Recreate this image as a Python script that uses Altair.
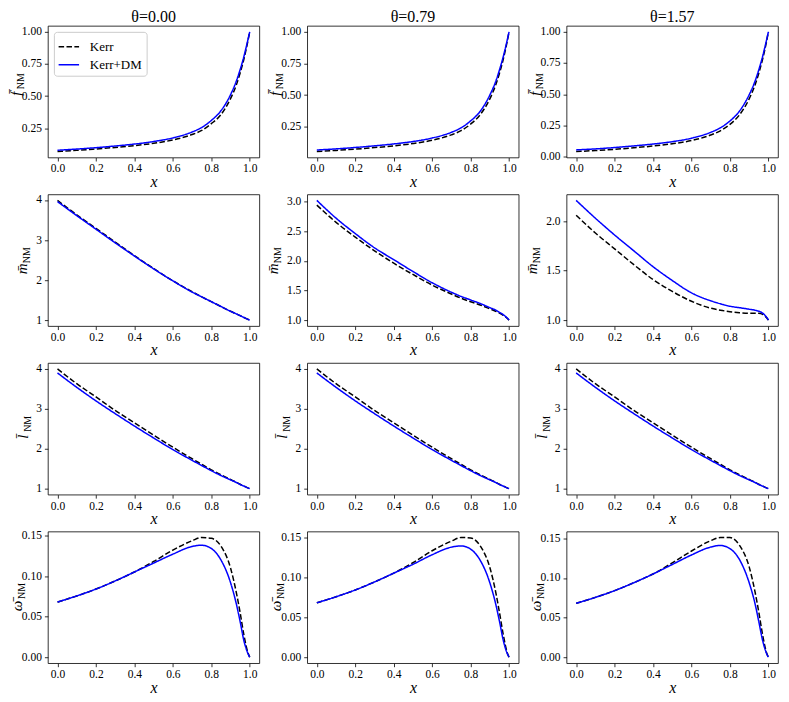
import altair as alt
import pandas as pd

FONT = "Liberation Serif"

# ---------------- data ----------------
x_vals = [0.0, 0.1, 0.2, 0.3, 0.4, 0.5, 0.6, 0.7, 0.75, 0.8, 0.85, 0.9, 0.93, 0.95, 0.97, 0.99, 1.0]
thetas = ["0.00", "0.79", "1.57"]
series = ["Kerr", "Kerr+DM"]

f_kerr_0 = [0.068, 0.077, 0.088, 0.100, 0.114, 0.132, 0.158, 0.200, 0.232, 0.285, 0.355, 0.480, 0.585, 0.680, 0.790, 0.925, 1.0]
f_dm_0 = [0.078, 0.087, 0.098, 0.111, 0.126, 0.146, 0.174, 0.220, 0.255, 0.310, 0.385, 0.510, 0.615, 0.705, 0.810, 0.935, 1.0]
f_kerr_1 = [0.053, 0.062, 0.072, 0.084, 0.098, 0.116, 0.142, 0.185, 0.218, 0.270, 0.345, 0.470, 0.578, 0.672, 0.785, 0.922, 1.0]
f_dm_1 = [0.065, 0.074, 0.085, 0.098, 0.113, 0.132, 0.160, 0.205, 0.240, 0.295, 0.372, 0.500, 0.605, 0.698, 0.805, 0.932, 1.0]
f_kerr_2 = [0.040, 0.048, 0.058, 0.070, 0.084, 0.102, 0.128, 0.172, 0.206, 0.258, 0.335, 0.462, 0.572, 0.668, 0.782, 0.920, 1.0]
f_dm_2 = [0.053, 0.061, 0.072, 0.085, 0.100, 0.119, 0.147, 0.194, 0.230, 0.285, 0.365, 0.495, 0.602, 0.695, 0.803, 0.932, 1.0]

m_kerr_0 = [3.99, 3.63, 3.29, 2.95, 2.61, 2.29, 1.98, 1.71, 1.58, 1.46, 1.34, 1.22, 1.155, 1.11, 1.065, 1.02, 1.0]
m_dm_0 = [3.96, 3.61, 3.27, 2.93, 2.60, 2.28, 1.98, 1.70, 1.58, 1.46, 1.34, 1.22, 1.155, 1.11, 1.065, 1.02, 1.0]
m_kerr_1 = [2.94, 2.65, 2.40, 2.17, 1.96, 1.77, 1.59, 1.44, 1.37, 1.31, 1.255, 1.19, 1.15, 1.12, 1.08, 1.03, 1.0]
m_dm_1 = [3.02, 2.72, 2.46, 2.22, 2.02, 1.82, 1.63, 1.47, 1.40, 1.34, 1.28, 1.21, 1.17, 1.13, 1.09, 1.035, 1.0]
m_kerr_2 = [2.06, 1.88, 1.72, 1.56, 1.41, 1.29, 1.19, 1.12, 1.10, 1.085, 1.075, 1.07, 1.07, 1.068, 1.058, 1.025, 1.0]
m_dm_2 = [2.21, 2.03, 1.86, 1.70, 1.54, 1.40, 1.275, 1.195, 1.165, 1.14, 1.125, 1.11, 1.10, 1.09, 1.07, 1.03, 1.0]

l_kerr_0 = [4.00, 3.63, 3.30, 2.96, 2.65, 2.34, 2.04, 1.75, 1.61, 1.47, 1.35, 1.23, 1.16, 1.11, 1.065, 1.02, 1.0]
l_dm_0 = [3.90, 3.54, 3.20, 2.88, 2.57, 2.27, 1.98, 1.71, 1.58, 1.45, 1.33, 1.22, 1.155, 1.105, 1.063, 1.02, 1.0]
l_kerr_1 = [4.00, 3.63, 3.30, 2.96, 2.65, 2.34, 2.04, 1.75, 1.61, 1.47, 1.35, 1.23, 1.16, 1.11, 1.065, 1.02, 1.0]
l_dm_1 = [3.90, 3.54, 3.20, 2.88, 2.57, 2.27, 1.98, 1.71, 1.58, 1.45, 1.33, 1.22, 1.155, 1.105, 1.063, 1.02, 1.0]
l_kerr_2 = [4.00, 3.63, 3.30, 2.96, 2.65, 2.34, 2.04, 1.75, 1.61, 1.47, 1.35, 1.23, 1.16, 1.11, 1.065, 1.02, 1.0]
l_dm_2 = [3.90, 3.54, 3.20, 2.88, 2.57, 2.27, 1.98, 1.71, 1.58, 1.45, 1.33, 1.22, 1.155, 1.105, 1.063, 1.02, 1.0]

w_kerr_0 = [0.068, 0.0755, 0.084, 0.094, 0.105, 0.118, 0.132, 0.1435, 0.1475, 0.1465, 0.137, 0.110, 0.080, 0.055, 0.027, 0.006, 0.0]
w_dm_0 = [0.068, 0.0755, 0.084, 0.094, 0.105, 0.116, 0.127, 0.1365, 0.138, 0.134, 0.120, 0.092, 0.066, 0.044, 0.020, 0.005, 0.0]
w_kerr_1 = [0.068, 0.0755, 0.084, 0.094, 0.105, 0.118, 0.133, 0.145, 0.1495, 0.149, 0.139, 0.112, 0.082, 0.056, 0.028, 0.006, 0.0]
w_dm_1 = [0.068, 0.0755, 0.084, 0.094, 0.105, 0.116, 0.128, 0.1375, 0.139, 0.135, 0.121, 0.093, 0.067, 0.045, 0.021, 0.005, 0.0]
w_kerr_2 = [0.068, 0.0755, 0.084, 0.094, 0.105, 0.119, 0.134, 0.147, 0.151, 0.151, 0.141, 0.114, 0.083, 0.057, 0.028, 0.006, 0.0]
w_dm_2 = [0.068, 0.0755, 0.084, 0.094, 0.105, 0.117, 0.129, 0.139, 0.141, 0.137, 0.123, 0.094, 0.068, 0.045, 0.021, 0.005, 0.0]

x_ticks = [0.0, 0.2, 0.4, 0.6, 0.8, 1.0]
f_ticks = [0.0, 0.25, 0.5, 0.75, 1.0]
m_ticks_0 = [1, 2, 3, 4]
m_ticks_1 = [1.0, 1.5, 2.0, 2.5, 3.0]
m_ticks_2 = [1.0, 1.5, 2.0]
l_ticks = [1, 2, 3, 4]
w_ticks = [0.0, 0.05, 0.10, 0.15]

# row: (main symbol, subscript, data per theta, ticks per theta, formats per theta)
rows = [
    ("f\u0304", "NM", [(f_kerr_0, f_dm_0), (f_kerr_1, f_dm_1), (f_kerr_2, f_dm_2)],
     [f_ticks] * 3, [".2f"] * 3),
    ("m\u0304", "NM", [(m_kerr_0, m_dm_0), (m_kerr_1, m_dm_1), (m_kerr_2, m_dm_2)],
     [m_ticks_0, m_ticks_1, m_ticks_2], [".0f", ".1f", ".1f"]),
    ("l\u0304", "NM", [(l_kerr_0, l_dm_0), (l_kerr_1, l_dm_1), (l_kerr_2, l_dm_2)],
     [l_ticks] * 3, [".0f"] * 3),
    ("\u03c9\u0304", "NM", [(w_kerr_0, w_dm_0), (w_kerr_1, w_dm_1), (w_kerr_2, w_dm_2)],
     [w_ticks] * 3, [".2f"] * 3),
]

# title placement (relative to plot-left, plot-centre) for each row: main dx, main dy, sub dx, sub dy
title_pos = [(-32, 2, -27, -10.5), (-26, 8.5, -21, -5), (-25, 8, -20, -5), (-31, 8.5, -26, -6.5)]

W, H = 212, 132
LABEL_FS = 11.5

color_scale = alt.Scale(domain=series, range=["black", "blue"])
dash_scale = alt.Scale(domain=series, range=[[5.5, 2.4], [1, 0]])


def label_width(s):
    return sum(2.9 if ch == "." else 5.75 for ch in s)


panels = []
for ri, (sym, sub, data, ticks_list, fmts) in enumerate(rows):
    widths0 = None
    for ci in range(3):
        kerr, dm = data[ci]
        n = len(x_vals)
        df = pd.DataFrame({
            "x": x_vals * 2,
            "y": list(kerr) + list(dm),
            "series": ["Kerr"] * n + ["Kerr+DM"] * n,
        })
        lo, hi = min(kerr + dm), max(kerr + dm)
        pad = 0.05 * (hi - lo)
        dom = [lo - pad, hi + pad]
        ticks = [t for t in ticks_list[ci] if dom[0] - 1e-9 <= t <= dom[1] + 1e-9]
        fmt = fmts[ci]
        lw = max(label_width(format(t, fmt)) for t in ticks)
        if ci == 0:
            widths0 = lw
        shift = lw - widths0

        if ri == 0 and ci == 0:
            legend = alt.Legend(
                title=None, orient="top-left", offset=6, padding=4,
                strokeColor="#cccccc", fillColor="white", cornerRadius=3,
                symbolType="stroke", symbolSize=420, symbolStrokeWidth=1.5,
                labelFont=FONT, labelFontSize=13, labelColor="black",
                rowPadding=-3, labelOffset=10,
            )
        else:
            legend = None

        lines = alt.Chart(df).mark_line(strokeWidth=1.5, interpolate="monotone").encode(
            x=alt.X("x:Q", scale=alt.Scale(domain=[-0.05, 1.05], nice=False, zero=False),
                    axis=alt.Axis(values=x_ticks, format=".1f", title="x",
                                  titleFontStyle="italic", titlePadding=-1,
                                  labelPadding=2)),
            y=alt.Y("y:Q", scale=alt.Scale(domain=dom, nice=False, zero=False),
                    axis=alt.Axis(values=ticks, format=fmt, title=None)),
            color=alt.Color("series:N", scale=color_scale, legend=legend),
            strokeDash=alt.StrokeDash("series:N", scale=dash_scale, legend=legend),
        )

        mdx, mdy, sdx, sdy = title_pos[ri]
        main_t = alt.Chart(pd.DataFrame({"t": [sym]})).mark_text(
            angle=270, align="center", baseline="middle", font=FONT, fontSize=15,
            fontStyle="italic", color="black",
        ).encode(text="t:N", x=alt.value(mdx - shift), y=alt.value(H / 2 + mdy))
        sub_t = alt.Chart(pd.DataFrame({"t": [sub]})).mark_text(
            angle=270, align="center", baseline="middle", font=FONT, fontSize=10,
            color="black",
        ).encode(text="t:N", x=alt.value(sdx - shift), y=alt.value(H / 2 + sdy))

        props = dict(width=W, height=H)
        if ri == 0:
            props["title"] = alt.TitleParams(
                "\u03b8=" + thetas[ci], font=FONT, fontSize=16, fontWeight="normal",
                color="black", offset=1,
            )
        panels.append(alt.layer(lines, main_t, sub_t).properties(**props))

chart = alt.concat(
    *panels, columns=3, spacing={"row": 37, "column": 48}, bounds="flush",
).resolve_scale(
    color="independent", strokeDash="independent",
).resolve_legend(
    color="independent", strokeDash="independent",
).properties(
    padding={"left": 0, "top": -1, "right": 2, "bottom": 2},
).configure_view(
    stroke="black", strokeWidth=0.8,
).configure_axis(
    domain=False, grid=False, tickColor="black", tickSize=3.5, tickWidth=0.8,
    labelFont=FONT, labelFontSize=LABEL_FS, labelColor="black", labelPadding=3,
    titleFont=FONT, titleFontSize=16, titleColor="black", titleFontWeight="normal",
)

chart.save("out.html", embed_options={"renderer": "svg", "actions": False})
